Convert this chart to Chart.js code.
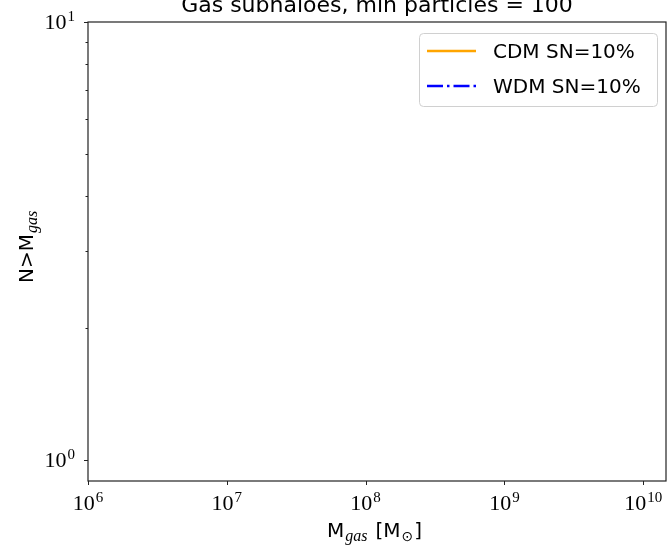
<!DOCTYPE html>
<html>
<head>
<meta charset="utf-8">
<script src="https://cdn.jsdelivr.net/npm/chart.js@4/dist/chart.umd.min.js"></script>
<style>
  html, body { margin: 0; padding: 0; background: #fff; }
  #wrap { width: 668px; height: 546px; }
</style>
</head>
<body>
<div id="wrap"><canvas id="myChart" width="668" height="546"></canvas></div>
<script>
// cumulative gas subhalo counts (no subhalo passes the 100 particle cut)
const seriesNames = ['CDM SN=10%', 'WDM SN=10%'];
const cdmMass = [];
const cdmCount = [];
const wdmMass = [];
const wdmCount = [];

// axis ranges and decade labels
const xRange = [1e6, 1.46e10];
const yRange = [0.895, 10];
const xTickExp = [6, 7, 8, 9, 10];
const yTickExp = [0, 1];

const titleText = 'Gas subhaloes, min particles = 100';

const sansFont = '"DejaVu Sans", sans-serif';
const serifFont = '"Liberation Serif", "DejaVu Serif", serif';

const toPoints = (xs, ys) => xs.map((x, i) => ({ x: x, y: ys[i] }));

// draws "10" with a raised exponent; align is 'center' or 'right'
const drawPow = (ctx, exp, x, y, align) => {
  ctx.font = '22px ' + serifFont;
  const wBase = ctx.measureText('10').width;
  ctx.font = '15px ' + serifFont;
  const wExp = ctx.measureText(String(exp)).width;
  const total = wBase + 1 + wExp;
  let left = align === 'right' ? x - total : x - total / 2;
  ctx.textAlign = 'left';
  ctx.font = '22px ' + serifFont;
  ctx.fillText('10', left, y);
  ctx.font = '15px ' + serifFont;
  ctx.fillText(String(exp), left + wBase + 1, y - 8);
};

const isDecadeMultiple = (v) => {
  const p = Math.pow(10, Math.floor(Math.log10(v) + 1e-9));
  const m = v / p;
  return Math.abs(m - Math.round(m)) < 1e-6;
};

const axesPlugin = {
  id: 'axesPlugin',
  afterDraw(chart) {
    const ctx = chart.ctx;
    const area = chart.chartArea;
    const xs = chart.scales.x;
    const ys = chart.scales.y;
    ctx.save();
    ctx.fillStyle = '#000';
    ctx.strokeStyle = '#222';

    // frame
    ctx.lineWidth = 1.2;
    ctx.strokeRect(area.left, area.top, area.right - area.left, area.bottom - area.top);

    // tick marks from the scales' own log ticks
    ctx.lineWidth = 1;
    xs.ticks.forEach((t) => {
      if (!isDecadeMultiple(t.value)) return;
      const px = Math.round(xs.getPixelForValue(t.value)) + 0.5;
      if (px < area.left - 1 || px > area.right + 1) return;
      const major = Math.abs(Math.log10(t.value) % 1) < 1e-9;
      ctx.beginPath();
      ctx.moveTo(px, area.bottom);
      ctx.lineTo(px, area.bottom + (major ? 4 : 2.5));
      ctx.stroke();
    });
    ys.ticks.forEach((t) => {
      if (!isDecadeMultiple(t.value)) return;
      const py = Math.round(ys.getPixelForValue(t.value)) + 0.5;
      if (py < area.top - 1 || py > area.bottom + 1) return;
      const major = Math.abs(Math.log10(t.value) % 1) < 1e-9;
      ctx.beginPath();
      ctx.moveTo(area.left, py);
      ctx.lineTo(area.left - (major ? 4 : 2.5), py);
      ctx.stroke();
    });

    // decade labels
    ctx.textBaseline = 'alphabetic';
    xTickExp.forEach((e) => {
      drawPow(ctx, e, xs.getPixelForValue(Math.pow(10, e)), 510, 'center');
    });
    yTickExp.forEach((e) => {
      drawPow(ctx, e, 75, ys.getPixelForValue(Math.pow(10, e)) + 7, 'right');
    });

    // title (runs off the top edge)
    ctx.font = '22px ' + sansFont;
    ctx.textAlign = 'center';
    ctx.fillText(titleText, 377, 12);

    // x label: M_gas [M_sun]
    ctx.textAlign = 'left';
    let cx = 327;
    const xb = 537;
    ctx.font = '20px ' + sansFont;
    ctx.fillText('M', cx, xb);
    cx += ctx.measureText('M').width + 1;
    ctx.font = 'italic 16px ' + serifFont;
    ctx.fillText('gas', cx, xb + 4);
    cx += ctx.measureText('gas').width + 8;
    ctx.font = '20px ' + sansFont;
    ctx.fillText('[M', cx, xb);
    cx += ctx.measureText('[M').width + 1;
    ctx.font = '14px ' + sansFont;
    ctx.fillText('\u2299', cx, xb + 4);
    cx += ctx.measureText('\u2299').width + 1;
    ctx.font = '20px ' + sansFont;
    ctx.fillText(']', cx, xb);

    // y label: N>M_gas, rotated
    ctx.save();
    ctx.translate(33, 283);
    ctx.rotate(-Math.PI / 2);
    ctx.font = '20px ' + sansFont;
    ctx.fillText('N>M', 0, 0);
    const w = ctx.measureText('N>M').width + 1;
    ctx.font = 'italic 16px ' + serifFont;
    ctx.fillText('gas', w, 4);
    ctx.restore();

    // legend
    const lx = 419, ly = 33, lw = 238, lh = 73;
    ctx.beginPath();
    ctx.roundRect(lx + 0.5, ly + 0.5, lw, lh, 4);
    ctx.fillStyle = 'rgba(255,255,255,0.8)';
    ctx.fill();
    ctx.strokeStyle = '#d0d0d0';
    ctx.lineWidth = 1;
    ctx.stroke();
    chart.data.datasets.forEach((ds, i) => {
      const yy = 51 + i * 35;
      ctx.beginPath();
      ctx.strokeStyle = ds.borderColor;
      ctx.lineWidth = ds.borderWidth;
      ctx.setLineDash(ds.borderDash || []);
      ctx.moveTo(427, yy);
      ctx.lineTo(476, yy);
      ctx.stroke();
      ctx.setLineDash([]);
      ctx.fillStyle = '#000';
      ctx.font = '20px ' + sansFont;
      ctx.textAlign = 'left';
      ctx.fillText(ds.label, 493, yy + 7);
    });
    ctx.restore();
  }
};

const ctx = document.getElementById('myChart').getContext('2d');
const chart = new Chart(ctx, {
  type: 'scatter',
  data: {
    datasets: [
      {
        label: seriesNames[0],
        data: toPoints(cdmMass, cdmCount),
        showLine: true,
        borderColor: '#FFA500',
        borderWidth: 2.5,
        pointRadius: 0
      },
      {
        label: seriesNames[1],
        data: toPoints(wdmMass, wdmCount),
        showLine: true,
        borderColor: '#0000FF',
        borderWidth: 2.5,
        borderDash: [16, 4, 2.5, 4],
        pointRadius: 0
      }
    ]
  },
  options: {
    responsive: false,
    animation: false,
    devicePixelRatio: 1,
    layout: { padding: { left: 88, top: 22, right: 2, bottom: 65 } },
    plugins: {
      legend: { display: false },
      title: { display: false },
      tooltip: { enabled: false }
    },
    scales: {
      x: { type: 'logarithmic', min: xRange[0], max: xRange[1], display: false },
      y: { type: 'logarithmic', min: yRange[0], max: yRange[1], display: false }
    }
  },
  plugins: [axesPlugin]
});
</script>
</body>
</html>
